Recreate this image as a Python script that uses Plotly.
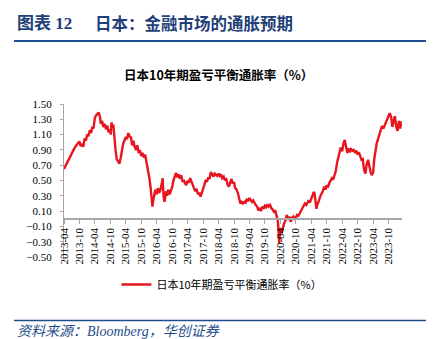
import plotly.graph_objects as go

dates = [
"2013-04-01","2013-05-01","2013-06-01","2013-07-01","2013-08-01","2013-09-01","2013-10-01","2013-10-15","2013-11-01","2013-11-15",
"2013-12-01","2013-12-15","2014-01-01","2014-01-15","2014-02-01","2014-02-15","2014-03-01","2014-03-15","2014-04-01","2014-04-15",
"2014-05-01","2014-05-15","2014-06-01","2014-06-10","2014-06-25","2014-07-10","2014-07-25","2014-08-10","2014-08-25","2014-09-10",
"2014-09-25","2014-10-05","2014-10-15","2014-10-25","2014-11-05","2014-11-15","2014-12-01","2014-12-15","2015-01-01","2015-01-15",
"2015-02-01","2015-02-15","2015-03-01","2015-03-15","2015-04-01","2015-04-15","2015-05-01","2015-05-15","2015-06-01","2015-06-15",
"2015-07-01","2015-07-15","2015-08-01","2015-08-15","2015-09-01","2015-09-15","2015-10-01","2015-10-15","2015-11-01","2015-11-15",
"2015-12-01","2015-12-15","2016-01-05","2016-01-20","2016-02-01","2016-02-10","2016-02-20","2016-03-01","2016-03-15","2016-04-01",
"2016-04-15","2016-05-01","2016-05-15","2016-06-01","2016-06-10","2016-06-20","2016-07-01","2016-07-10","2016-07-20","2016-08-01",
"2016-08-15","2016-09-01","2016-09-15","2016-10-01","2016-10-15","2016-11-01","2016-11-15","2016-12-01","2016-12-15","2017-01-01",
"2017-01-15","2017-02-01","2017-02-15","2017-03-01","2017-03-15","2017-04-01","2017-04-15","2017-05-01","2017-05-15","2017-06-01",
"2017-06-15","2017-07-01","2017-07-15","2017-08-01","2017-08-15","2017-09-01","2017-09-15","2017-10-01","2017-10-15","2017-11-01",
"2017-11-15","2017-12-01","2017-12-15","2018-01-01","2018-01-15","2018-02-01","2018-02-15","2018-03-01","2018-03-15","2018-04-01",
"2018-04-15","2018-05-01","2018-05-15","2018-06-01","2018-06-15","2018-07-01","2018-07-15","2018-08-01","2018-08-15","2018-09-01",
"2018-09-15","2018-10-01","2018-10-15","2018-11-01","2018-11-15","2018-12-01","2018-12-15","2019-01-01","2019-01-15","2019-02-01",
"2019-02-15","2019-03-01","2019-03-15","2019-04-01","2019-04-15","2019-05-01","2019-05-15","2019-06-01","2019-06-15","2019-07-01",
"2019-07-15","2019-08-01","2019-08-15","2019-09-01","2019-09-15","2019-10-01","2019-10-15","2019-11-01","2019-11-15","2019-12-01",
"2019-12-15","2020-01-01","2020-01-15","2020-02-01","2020-02-15","2020-03-01","2020-03-10","2020-03-18","2020-03-25","2020-04-01",
"2020-04-15","2020-05-01","2020-05-15","2020-06-01","2020-06-15","2020-07-01","2020-07-15","2020-08-01","2020-08-15","2020-09-01",
"2020-09-15","2020-10-01","2020-10-15","2020-11-01","2020-11-15","2020-12-01","2020-12-15","2021-01-01","2021-01-15","2021-02-01",
"2021-02-15","2021-03-01","2021-03-15","2021-04-01","2021-04-15","2021-05-01","2021-05-10","2021-05-20","2021-06-01","2021-06-10",
"2021-06-20","2021-07-01","2021-07-15","2021-08-01","2021-08-15","2021-09-01","2021-09-15","2021-10-01","2021-10-15","2021-11-01",
"2021-11-15","2021-12-01","2021-12-15","2022-01-01","2022-01-15","2022-02-01","2022-02-15","2022-03-01","2022-03-15","2022-04-01",
"2022-04-15","2022-05-01","2022-05-15","2022-06-01","2022-06-15","2022-07-01","2022-07-15","2022-08-01","2022-08-15","2022-09-01",
"2022-09-15","2022-10-01","2022-10-15","2022-11-01","2022-11-15","2022-12-01","2022-12-15","2023-01-01","2023-01-15","2023-02-01",
"2023-02-15","2023-03-01","2023-03-15","2023-04-01","2023-04-15","2023-05-01","2023-05-15","2023-06-01","2023-06-15","2023-07-01",
"2023-07-15","2023-08-01","2023-08-15","2023-09-01","2023-09-15","2023-10-01","2023-10-15","2023-11-01","2023-11-15","2023-12-01",
"2023-12-15","2024-01-01","2024-01-15","2024-02-01","2024-02-15","2024-03-01","2024-03-08"]

bei_10y = [
0.65,0.72,0.80,0.86,0.92,0.97,1.01,0.95,0.98,0.94,
1.05,1.02,1.10,1.08,1.16,1.12,1.20,1.18,1.32,1.35,
1.37,1.39,1.33,1.24,1.28,1.20,1.24,1.17,1.22,1.13,
1.17,1.10,1.26,1.20,1.23,1.07,0.90,0.78,0.74,0.72,
0.80,0.92,0.98,1.02,1.07,1.04,1.12,1.08,1.06,0.96,
1.02,0.94,0.90,0.96,0.86,0.90,0.82,0.86,0.80,0.84,
0.74,0.70,0.53,0.40,0.26,0.16,0.24,0.30,0.38,0.32,
0.40,0.34,0.38,0.47,0.53,0.30,0.22,0.28,0.36,0.30,
0.38,0.32,0.36,0.42,0.50,0.56,0.60,0.54,0.58,0.52,
0.57,0.48,0.51,0.46,0.44,0.50,0.47,0.53,0.48,0.44,
0.40,0.36,0.39,0.32,0.34,0.29,0.33,0.40,0.44,0.51,
0.48,0.54,0.52,0.61,0.58,0.55,0.59,0.57,0.56,0.59,
0.56,0.58,0.53,0.55,0.50,0.53,0.45,0.42,0.47,0.52,
0.46,0.48,0.40,0.38,0.34,0.24,0.20,0.22,0.20,0.22,
0.21,0.26,0.23,0.27,0.24,0.22,0.24,0.20,0.18,0.16,
0.11,0.14,0.10,0.16,0.13,0.17,0.15,0.19,0.16,0.18,
0.14,0.12,0.09,0.10,0.05,-0.02,-0.15,-0.32,-0.20,-0.12,
-0.19,-0.10,-0.06,-0.02,0.05,-0.01,0.03,-0.04,0.01,0.03,
0.00,0.02,0.05,0.04,0.07,0.10,0.14,0.16,0.20,0.18,
0.22,0.24,0.21,0.26,0.30,0.35,0.33,0.22,0.13,0.18,
0.20,0.24,0.29,0.32,0.36,0.42,0.38,0.44,0.41,0.47,
0.50,0.53,0.51,0.56,0.62,0.74,0.82,0.86,0.93,0.88,
0.98,1.03,0.95,0.86,0.92,0.87,0.91,0.89,0.90,0.86,
0.89,0.84,0.87,0.80,0.77,0.78,0.64,0.59,0.71,0.77,
0.66,0.62,0.57,0.60,0.78,0.92,0.99,1.05,1.10,1.15,
1.21,1.18,1.22,1.26,1.30,1.33,1.38,1.33,1.20,1.28,
1.34,1.20,1.15,1.28,1.18,1.27,1.25]

series_name = "日本10年期盈亏平衡通胀率（%）"
header_label = "图表 12"
header_text = "日本：金融市场的通胀预期"
chart_title = "日本10年期盈亏平衡通胀率（%）"
source_text = "资料来源：Bloomberg，华创证券"

AXIS_GRAY = "#a6a6a6"
NAVY = "#1f4e8c"
HEADER_NAVY = "#1f3f78"

# plot area in pixels: x 64..402, y 104.3..256.7
PW, PH, L, T = 338.0, 152.4, 64.0, 104.3


def px(xp):
    return (xp - L) / PW


def py(yp):
    return 1 - (yp - T) / PH


fig = go.Figure()
fig.add_trace(go.Scatter(
    x=dates, y=bei_10y, mode="lines", name=series_name,
    line=dict(color="#e8141e", width=2.4),
))

fig.update_layout(
    width=443, height=339,
    margin=dict(l=64, r=41, t=104, b=82),
    paper_bgcolor="white", plot_bgcolor="white",
    showlegend=True,
    legend=dict(orientation="h", x=0.155, xanchor="left", y=-0.085, yanchor="top",
                font=dict(family="Noto Sans CJK SC", size=11, color="#000000"),
                bgcolor="rgba(0,0,0,0)", borderwidth=0),
    xaxis=dict(
        type="date", range=["2013-04-01", "2024-03-08"],
        anchor="free", position=0.25,
        tick0="2013-04-01", dtick="M6", tickformat="%Y-%m",
        tickangle=-90, ticks="outside", ticklen=4, tickcolor=AXIS_GRAY,
        showline=True, linecolor=AXIS_GRAY, linewidth=1.5,
        showgrid=False, zeroline=False,
        tickfont=dict(family="Liberation Serif", size=11, color="#000000"),
    ),
    yaxis=dict(
        range=[-0.5, 1.5], tick0=-0.5, dtick=0.2, tickformat=".2f",
        ticks="outside", ticklen=3, tickcolor=AXIS_GRAY,
        showline=True, linecolor=AXIS_GRAY, linewidth=1,
        showgrid=False, zeroline=False, ticklabelstandoff=6,
        tickfont=dict(family="Liberation Serif", size=11, color="#000000"),
    ),
)

fig.add_annotation(text=header_label, xref="paper", yref="paper",
                   x=px(15), xanchor="left", y=py(24), yanchor="middle",
                   showarrow=False,
                   font=dict(family="Liberation Serif, Noto Sans CJK SC", size=17,
                             color=HEADER_NAVY, weight="bold"))
fig.add_annotation(text=header_text, xref="paper", yref="paper",
                   x=px(93), xanchor="left", y=py(24), yanchor="middle",
                   showarrow=False,
                   font=dict(family="Noto Sans CJK SC", size=16.5,
                             color=HEADER_NAVY, weight="bold"))
fig.add_annotation(text=chart_title, xref="paper", yref="paper",
                   x=px(218), xanchor="center", y=py(75), yanchor="middle",
                   showarrow=False,
                   font=dict(family="Noto Sans CJK SC", size=12.5, color="#000000", weight="bold"))
fig.add_annotation(text="<i>" + source_text + "</i>", xref="paper", yref="paper",
                   x=px(15), xanchor="left", y=py(331), yanchor="middle",
                   showarrow=False,
                   font=dict(family="Liberation Serif, Noto Sans CJK SC", size=14, color=NAVY))

fig.add_shape(type="line", xref="paper", yref="paper",
              x0=px(14), x1=px(426), y0=py(41.5), y1=py(41.5),
              line=dict(color=NAVY, width=2))
fig.add_shape(type="line", xref="paper", yref="paper",
              x0=px(14), x1=px(426), y0=py(320), y1=py(320),
              line=dict(color=NAVY, width=1.5))

fig.write_html("out.html")
